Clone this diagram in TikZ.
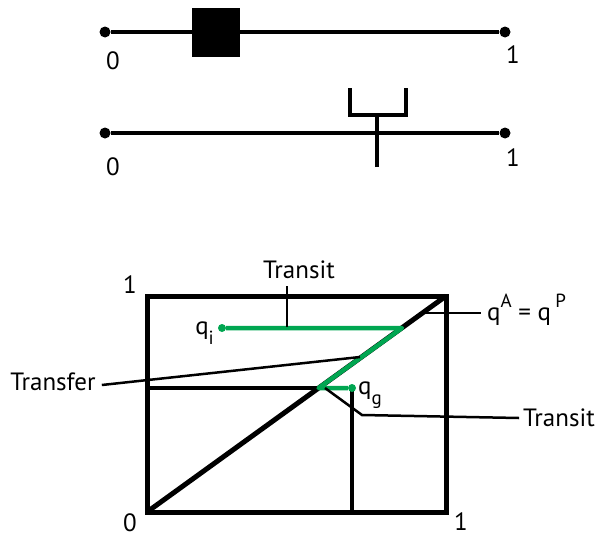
\documentclass[tikz,border=0pt]{standalone}
\usepackage{fontspec}
\setmainfont{PT Sans}
\usetikzlibrary{positioning}
\definecolor{routeGreen}{HTML}{00A651}
\newcommand{\lowtxt}[1]{\raisebox{-0.42em}{\fontsize{19}{19}\selectfont #1}}
\newcommand{\hightxt}[1]{\raisebox{0.5em}{\fontsize{19}{19}\selectfont #1}}

\begin{document}
\begin{tikzpicture}[x=1pt,y=-1pt,
    every node/.style={font=\fontsize{25}{29}\selectfont, inner sep=0pt},
    endpt/.style={circle, fill=black, minimum size=11pt},
    gdot/.style={circle, fill=routeGreen, minimum size=8pt},
    axis/.style={line width=3.5pt},
    frame/.style={line width=5pt, line join=miter},
    leader/.style={line width=2.5pt},
    route/.style={routeGreen, line width=4.5pt, line join=round}]
  \useasboundingbox (0,0) rectangle (602,538);
  % first line with the block
  \node[endpt] (a0) at (105,32) {};
  \node[endpt] (a1) at (505,32) {};
  \draw[axis] (a0) -- (a1);
  \node[fill=black, minimum width=48pt, minimum height=49pt] (blk) at (216,32) {};
  \node (a0lbl) at (113,61) {0};
  \node (a1lbl) at (513,55) {1};
  % second line with the fork
  \node[endpt] (b0) at (105,133) {};
  \node[endpt] (b1) at (505,133) {};
  \draw[axis] (b0) -- (b1);
  \draw[axis] (377,167) -- (377,115);
  \draw[axis] (350,88) -- (350,115) -- (406,115) -- (406,88);
  \node (b0lbl) at (113,167) {0};
  \node (b1lbl) at (513,158) {1};
  % unit square
  \coordinate (o) at (147,512);
  \coordinate (tr) at (446,296);
  \draw[frame] (o) rectangle (tr);
  \draw[frame] (o) -- (tr);
  \node (o0) at (130,523) {0};
  \node (y1) at (130,285) {1};
  \node (x1) at (461,522) {1};
  \coordinate (hi) at (402,328);
  \coordinate (lo) at (318.6,388);
  \draw[line width=4pt] (147,388) -- (lo);
  \draw[line width=4pt] (352,388) -- (352,512);
  % route
  \node[gdot] (qi) at (222,328) {};
  \node[gdot] (qg) at (352,388) {};
  \draw[route] (qi) -- (hi) -- (lo) -- (qg);
  \node[anchor=base east] (qilbl) at (214,334) {q\lowtxt{i}};
  \node[anchor=base west] (qglbl) at (358,394) {q\lowtxt{g}};
  \node[anchor=base west] (qap) at (487,320) {q\hightxt{A} = q\,\hightxt{P}};
  % labels and leaders
  \node (tt) at (299,270) {Transit};
  \coordinate (tA) at (287,327);
  \draw[leader] (tA) -- ([yshift=-7pt]tA |- tt.south);
  \coordinate (dA) at (425,313);
  \draw[leader] (dA) -- ([xshift=-6pt]dA -| qap.west);
  \node (tf) at (53,382) {Transfer};
  \coordinate (tfA) at (360,357);
  \draw[leader] ([xshift=6pt,yshift=-3pt]tf.east) -- (tfA);
  \node (tb) at (559,418) {Transit};
  \coordinate (tbA) at (325,388);
  \draw[leader] (tbA) -- (362,415) -- ([xshift=-4pt]tb.west);
\end{tikzpicture}
\end{document}
